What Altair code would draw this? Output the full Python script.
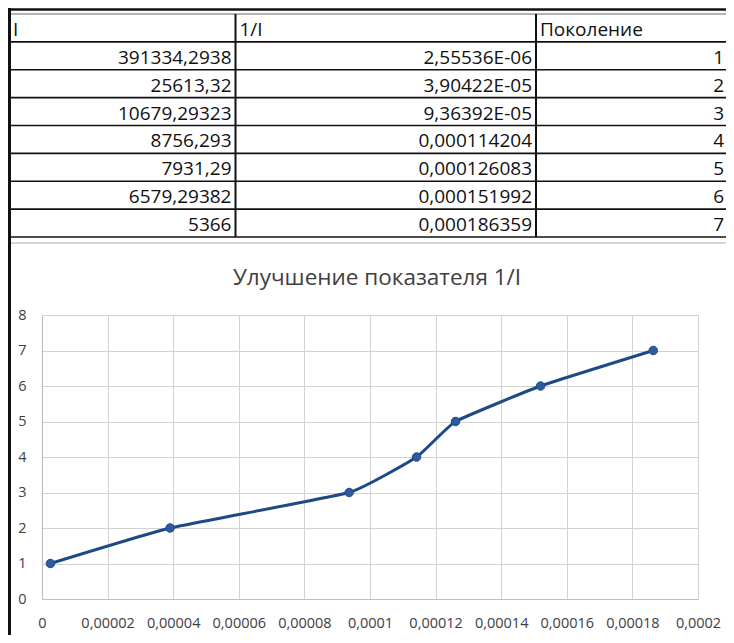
import altair as alt
import pandas as pd

# ---------------- data ----------------
header_labels = ["I", "1/I", "Поколение"]
I_labels = ["391334,2938", "25613,32", "10679,29323", "8756,293", "7931,29", "6579,29382", "5366"]
inv_I_labels = ["2,55536E-06", "3,90422E-05", "9,36392E-05", "0,000114204",
                "0,000126083", "0,000151992", "0,000186359"]
inv_I = [2.55536e-06, 3.90422e-05, 9.36392e-05, 0.000114204, 0.000126083, 0.000151992, 0.000186359]
generation = [1, 2, 3, 4, 5, 6, 7]
x_ticks = [0, 0.00002, 0.00004, 0.00006, 0.00008, 0.0001, 0.00012, 0.00014, 0.00016, 0.00018, 0.0002]
y_ticks = [0, 1, 2, 3, 4, 5, 6, 7, 8]
title_text = "Улучшение показателя 1/I"

# ---------------- styles ----------------
FONT = "Open Sans"
LINE_BLUE = "#1d4a87"
GRID = "#d2d2d2"
AXIS_TXT = "#404040"

W, H = 656, 284
PAD = {"left": 34, "top": 307, "right": 28, "bottom": 36}

n_rows = len(I_labels)
n_cols = len(header_labels)

# table coordinate system: column edges 0..n_cols, row boundaries 0..n_rows+1
tx = alt.Scale(domain=[0, 1, 2, 3], range=[-33, 193.5, 494, 686], nice=False, zero=False)
ty = alt.Scale(domain=[0, n_rows + 1], range=[-301, -78], nice=False, zero=False)

# ---------------- table ----------------
cells = []
for k, h in enumerate(header_labels):
    cells.append({"edge": k, "row_c": 0.5, "txt": h, "kind": "header"})
for i in range(n_rows):
    row_vals = [I_labels[i], inv_I_labels[i], str(generation[i])]
    for k, v in enumerate(row_vals):
        cells.append({"edge": k + 1, "row_c": i + 1.5, "txt": v, "kind": "value"})
cells_df = pd.DataFrame(cells)

hl_df = pd.DataFrame({"r": list(range(n_rows + 2)), "x0": 0, "x1": n_cols})
vl_df = pd.DataFrame({"e": list(range(1, n_cols)), "r0": 0, "r1": n_rows + 1})

line_ext = alt.Scale(domain=[0, 1, 2, 3], range=[-33, 193.5, 494, 720], nice=False, zero=False)

hl_top = alt.Chart(hl_df[hl_df.r == 0]).mark_rule(color="#9a9a9a", strokeWidth=1.4).encode(
    x=alt.X("x0:Q", scale=tx, axis=None), x2="x1:Q",
    y=alt.Y("r:Q", scale=ty, axis=None))
hl_black = alt.Chart(hl_df[hl_df.r > 0]).mark_rule(color="#111111", strokeWidth=1.7).encode(
    x=alt.X("x0:Q", scale=tx, axis=None), x2="x1:Q",
    y=alt.Y("r:Q", scale=ty, axis=None))
vlines = alt.Chart(vl_df).mark_rule(color="#111111", strokeWidth=2).encode(
    x=alt.X("e:Q", scale=tx, axis=None),
    y=alt.Y("r0:Q", scale=ty, axis=None), y2="r1:Q")

head_txt = alt.Chart(cells_df[cells_df.kind == "header"]).mark_text(
    font=FONT, fontSize=19, align="left", baseline="middle", dx=4, dy=2, color="#111111").encode(
    x=alt.X("edge:Q", scale=tx, axis=None),
    y=alt.Y("row_c:Q", scale=ty, axis=None),
    text="txt:N")
val_txt = alt.Chart(cells_df[cells_df.kind == "value"]).mark_text(
    font=FONT, fontSize=19, align="right", baseline="middle", dx=-4, dy=2, color="#111111").encode(
    x=alt.X("edge:Q", scale=tx, axis=None),
    y=alt.Y("row_c:Q", scale=ty, axis=None),
    text="txt:N")

table = alt.layer(hl_top, hl_black, vlines, head_txt, val_txt)

# ---------------- frame decorations ----------------
one = alt.Data(values=[{"k": 0}])
left_border = alt.Chart(one).mark_rule(color="#111111", strokeWidth=3).encode(
    x=alt.value(-32.5), y=alt.value(-307), y2=alt.value(H + 40))
top_border = alt.Chart(one).mark_rule(color="#111111", strokeWidth=2.5).encode(
    x=alt.value(-34), x2=alt.value(W + 40), y=alt.value(-305.5))
below_line = alt.Chart(one).mark_rule(color="#c8c8c8", strokeWidth=1.5).encode(
    x=alt.value(-31), x2=alt.value(W + 40), y=alt.value(-72))

# ---------------- title ----------------
title = alt.Chart(pd.DataFrame({"t": [title_text]})).mark_text(
    font=FONT, fontSize=22.5, align="center", baseline="alphabetic", color="#404040").encode(
    x=alt.value(335), y=alt.value(-30), text="t:N")

# ---------------- line chart ----------------
df = pd.DataFrame({"inv": inv_I, "gen": generation})
xs = alt.Scale(domain=[0, 0.0002], nice=False, zero=False)
ys = alt.Scale(domain=[0, 8], nice=False, zero=False)
x_axis = alt.Axis(values=x_ticks, title=None, grid=True, gridColor=GRID, gridWidth=1,
                  domainColor="#bfbfbf", domainWidth=1.2, ticks=False, tickSize=0,
                  labelFont=FONT, labelFontSize=14.5, labelColor=AXIS_TXT, labelPadding=17,
                  labelFlush=False, labelOverlap=False,
                  labelExpr="replace(format(datum.value, '~f'), '.', ',')")
y_axis = alt.Axis(values=y_ticks, title=None, grid=True, gridColor=GRID, gridWidth=1,
                  domainColor="#bfbfbf", domainWidth=1.2, ticks=False, tickSize=0,
                  labelFont=FONT, labelFontSize=14.5, labelColor=AXIS_TXT, labelPadding=16,
                  labelFlush=False, labelOverlap=False)

line = alt.Chart(df).mark_line(color=LINE_BLUE, strokeWidth=3, interpolate="cardinal",
                               tension=0.65).encode(
    x=alt.X("inv:Q", scale=xs, axis=x_axis),
    y=alt.Y("gen:Q", scale=ys, axis=y_axis))
pts = alt.Chart(df).mark_point(filled=True, shape="circle", size=72, color="#2c5c9e",
                               stroke=LINE_BLUE, strokeWidth=1, opacity=1).encode(
    x=alt.X("inv:Q", scale=xs, axis=x_axis),
    y=alt.Y("gen:Q", scale=ys, axis=y_axis))
plot = alt.layer(line, pts)

chart = alt.layer(plot, table, left_border, top_border, below_line, title).resolve_scale(
    x="independent", y="independent"
).properties(
    width=W, height=H,
    autosize=alt.AutoSizeParams(type="none"),
    padding=PAD,
    background="white",
).configure_view(stroke=None)

chart.save("out.html", embed_options={"renderer": "svg", "actions": False})
